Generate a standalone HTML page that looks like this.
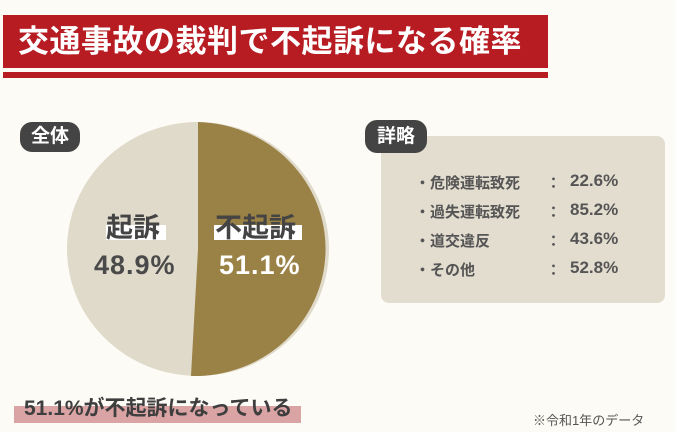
<!DOCTYPE html>
<html><head><meta charset="utf-8"><style>
body{margin:0;width:675px;height:432px;background:#fdfbf5;position:relative;overflow:hidden;font-family:"Liberation Sans","Noto Sans CJK JP",sans-serif;}
.a{position:absolute;}
.banner{left:3px;top:15px;width:545px;height:53px;background:#b71c23;}
.stripe{left:3px;top:72px;width:545px;height:6px;background:#b71c23;}
.title{left:18px;top:15px;height:53px;line-height:53px;color:#fff;font-size:31px;font-weight:bold;letter-spacing:0.5px;white-space:nowrap;}
.pill{background:#444;color:#fff;font-weight:bold;font-size:19px;border-radius:12px;text-align:center;}
.box{left:381px;top:136px;width:284px;height:167px;background:#e3ddd0;border-radius:8px;}
.row{left:415px;font-size:15px;font-weight:bold;color:#555;white-space:nowrap;}
.v{font-size:17px;}
</style></head><body>
<div class="a banner"></div>
<div class="a stripe"></div>
<div class="a title">交通事故の裁判で不起訴になる確率</div>

<svg class="a" style="left:0;top:0" width="675" height="432">
<ellipse cx="198" cy="249" rx="131" ry="127" fill="#e0dacb"/>
<path d="M198,249 L198,122 A131,127 0 1,1 191,376 Z" fill="#9a8146"/>
</svg>
<div class="a pill" style="left:20px;top:122px;width:60px;height:30px;line-height:30px;">全体</div>

<div class="a" style="left:106px;top:225px;width:60px;height:15px;background:#fff;"></div>
<div class="a" style="left:106px;top:206px;font-size:27px;font-weight:bold;color:#444;">起訴</div>
<div class="a" style="left:214px;top:225px;width:88px;height:15px;background:#fff;"></div>
<div class="a" style="left:215px;top:206px;font-size:27px;font-weight:bold;color:#444;">不起訴</div>
<div class="a" style="left:94px;top:250px;font-size:27px;font-weight:bold;color:#4a4a4a;letter-spacing:1px;">48.9%</div>
<div class="a" style="left:219px;top:250px;font-size:27px;font-weight:bold;color:#fff;letter-spacing:1px;">51.1%</div>

<div class="a box"></div>
<div class="a pill" style="left:365px;top:120px;width:62px;height:33px;line-height:33px;">詳略</div>
<div class="a row" style="top:172px">・危険運転致死</div><div class="a row" style="top:172px;left:546px">：</div><div class="a row v" style="top:171px;left:570px">22.6%</div>
<div class="a row" style="top:201px">・過失運転致死</div><div class="a row" style="top:201px;left:546px">：</div><div class="a row v" style="top:200px;left:570px">85.2%</div>
<div class="a row" style="top:230px">・道交違反</div><div class="a row" style="top:230px;left:546px">：</div><div class="a row v" style="top:229px;left:570px">43.6%</div>
<div class="a row" style="top:259px">・その他</div><div class="a row" style="top:259px;left:546px">：</div><div class="a row v" style="top:258px;left:570px">52.8%</div>

<div class="a" style="left:14px;top:406px;width:287px;height:17px;background:#dba4a4;"></div>
<div class="a" style="left:24px;top:392px;font-size:21px;font-weight:bold;color:#3e3e3e;letter-spacing:0px;white-space:nowrap;">51.1%が不起訴になっている</div>
<div class="a" style="left:533px;top:410px;font-size:13px;color:#555;white-space:nowrap;">※令和1年のデータ</div>
</body></html>
